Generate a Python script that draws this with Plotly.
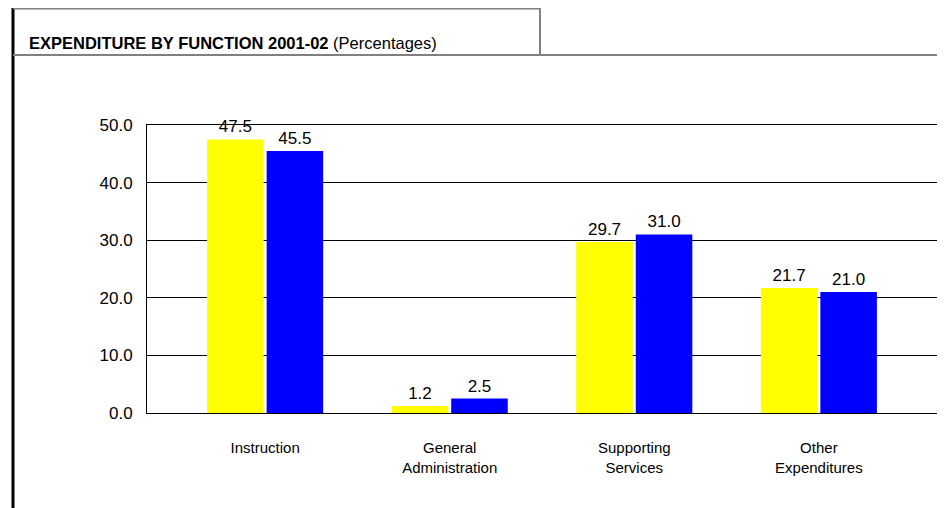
import plotly.graph_objects as go

categories = ["Instruction", "General<br>Administration", "Supporting<br>Services", "Other<br>Expenditures"]
series_a = [47.5, 1.2, 29.7, 21.7]
series_b = [45.5, 2.5, 31.0, 21.0]
tick_vals = [0, 10, 20, 30, 40, 50]
tick_text = ["0.0", "10.0", "20.0", "30.0", "40.0", "50.0"]

# the page body has an 8px margin; the figure is sized so it fills the window
OFF = 8
W, H = 945 - OFF, 508 - OFF
L, R, T, B = 147 - OFF, 8, 125 - OFF, 95
PW, PH = W - L - R, H - T - B

def px(x):
    # page pixel -> paper coordinate
    return (x - OFF - L) / PW

def py(y):
    return (H - B - (y - OFF)) / PH

FONT = "Liberation Sans, Arial, sans-serif"

fig = go.Figure()
fig.add_trace(go.Bar(x=categories, y=series_a, marker_color="#FFFF00", marker_line_width=0,
                     text=[f"{v:.1f}" for v in series_a], textposition="outside",
                     textfont=dict(family=FONT, size=17, color="black"), cliponaxis=False))
fig.add_trace(go.Bar(x=categories, y=series_b, marker_color="#0000FF", marker_line_width=0,
                     text=[f"{v:.1f}" for v in series_b], textposition="outside",
                     textfont=dict(family=FONT, size=17, color="black"), cliponaxis=False))

shapes = [
    dict(type="line", xref="paper", yref="paper", x0=px(13), x1=px(13), y0=py(8), y1=py(512),
         line=dict(color="black", width=3)),
    dict(type="line", xref="paper", yref="paper", x0=px(13), x1=px(540), y0=py(8.8), y1=py(8.8),
         line=dict(color="#808080", width=1.5)),
    dict(type="line", xref="paper", yref="paper", x0=px(540), x1=px(540), y0=py(8), y1=py(55),
         line=dict(color="#808080", width=2)),
    dict(type="line", xref="paper", yref="paper", x0=px(13), x1=px(950), y0=py(55), y1=py(55),
         line=dict(color="#808080", width=2)),
]

fig.update_layout(
    width=W, height=H,
    margin=dict(l=L, r=R, t=T, b=B),
    paper_bgcolor="white", plot_bgcolor="white",
    showlegend=False,
    barmode="group", bargap=0.355, bargroupgap=0.05,
    shapes=shapes,
    annotations=[dict(text="<b>EXPENDITURE BY FUNCTION 2001-02</b> (Percentages)",
                      xref="paper", yref="paper", x=px(27), y=py(43),
                      xanchor="left", yanchor="middle", showarrow=False,
                      font=dict(family=FONT, size=16.5, color="black"))],
    font=dict(family=FONT, color="black"),
)
fig.update_xaxes(range=[-0.64, 3.64], showline=True, linecolor="black", linewidth=1, mirror=True,
                 tickfont=dict(family=FONT, size=15, color="black"), ticks="",
                 ticklabelstandoff=21, showgrid=False)
fig.update_yaxes(range=[0, 50], tickvals=tick_vals, ticktext=tick_text, showline=True,
                 linecolor="black", linewidth=1, mirror=True, showgrid=True, gridcolor="black",
                 gridwidth=1, zeroline=False, ticks="", ticklabelstandoff=10,
                 tickfont=dict(family=FONT, size=17, color="black"))

fig.write_html("out.html")
